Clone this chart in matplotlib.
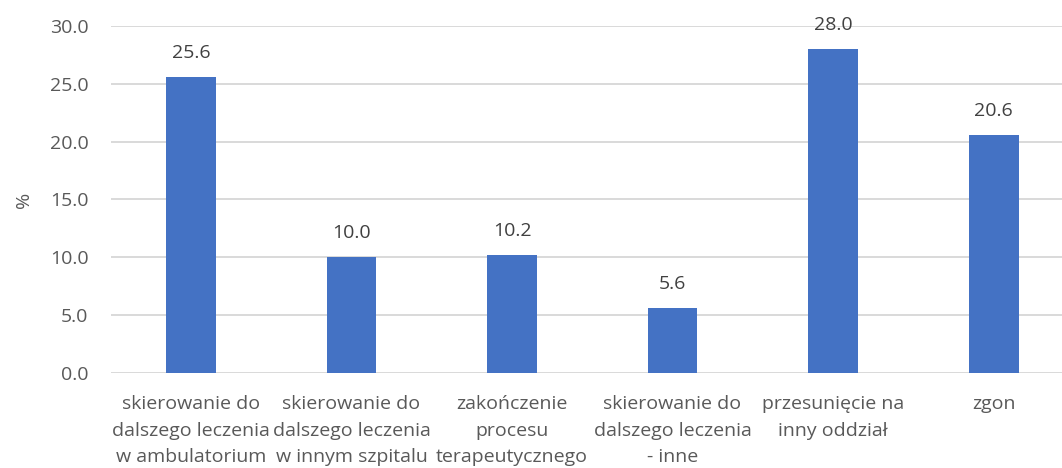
import matplotlib.pyplot as plt
import numpy as np

categories = [
    "skierowanie do\ndalszego leczenia\nw ambulatorium",
    "skierowanie do\ndalszego leczenia\nw innym szpitalu",
    "zakończenie\nprocesu\nterapeutycznego",
    "skierowanie do\ndalszego leczenia\n- inne",
    "przesunięcie na\ninny oddział",
    "zgon",
]
values = [25.6, 10.0, 10.2, 5.6, 28.0, 20.6]
yticks = [0, 5, 10, 15, 20, 25, 30]

plt.rcParams['font.family'] = ['Open Sans', 'DejaVu Sans']

fig = plt.figure(figsize=(10.62, 4.68), dpi=100)
ax = fig.add_axes([0.1042, 0.203, 0.907, 0.7415])

x = np.arange(len(categories))
bars = ax.bar(x, values, width=0.31, color='#4472C4', zorder=3)

for b, v in zip(bars, values):
    ax.text(b.get_x() + b.get_width() / 2, v + 1.3, f"{v:.1f}",
            ha='center', va='bottom', fontsize=14, color='#404040')

ax.set_xlim(-0.5, len(categories) - 0.5)
ax.set_ylim(0, 30)
ax.set_yticks(yticks)
ax.set_yticklabels([f"{t:.1f}" for t in yticks])
ax.set_xticks(x)
ax.set_xticklabels(categories, linespacing=1.6)

ax.tick_params(axis='both', length=0, labelsize=14, labelcolor='#595959')
ax.tick_params(axis='x', pad=16)
ax.tick_params(axis='y', pad=16)
ax.grid(axis='y', color='#D9D9D9', linewidth=1.4, zorder=0)
for s in ax.spines.values():
    s.set_visible(False)

ax.set_ylabel('%', fontsize=14, color='#595959', labelpad=12)

fig.savefig('out.png', dpi=100)
